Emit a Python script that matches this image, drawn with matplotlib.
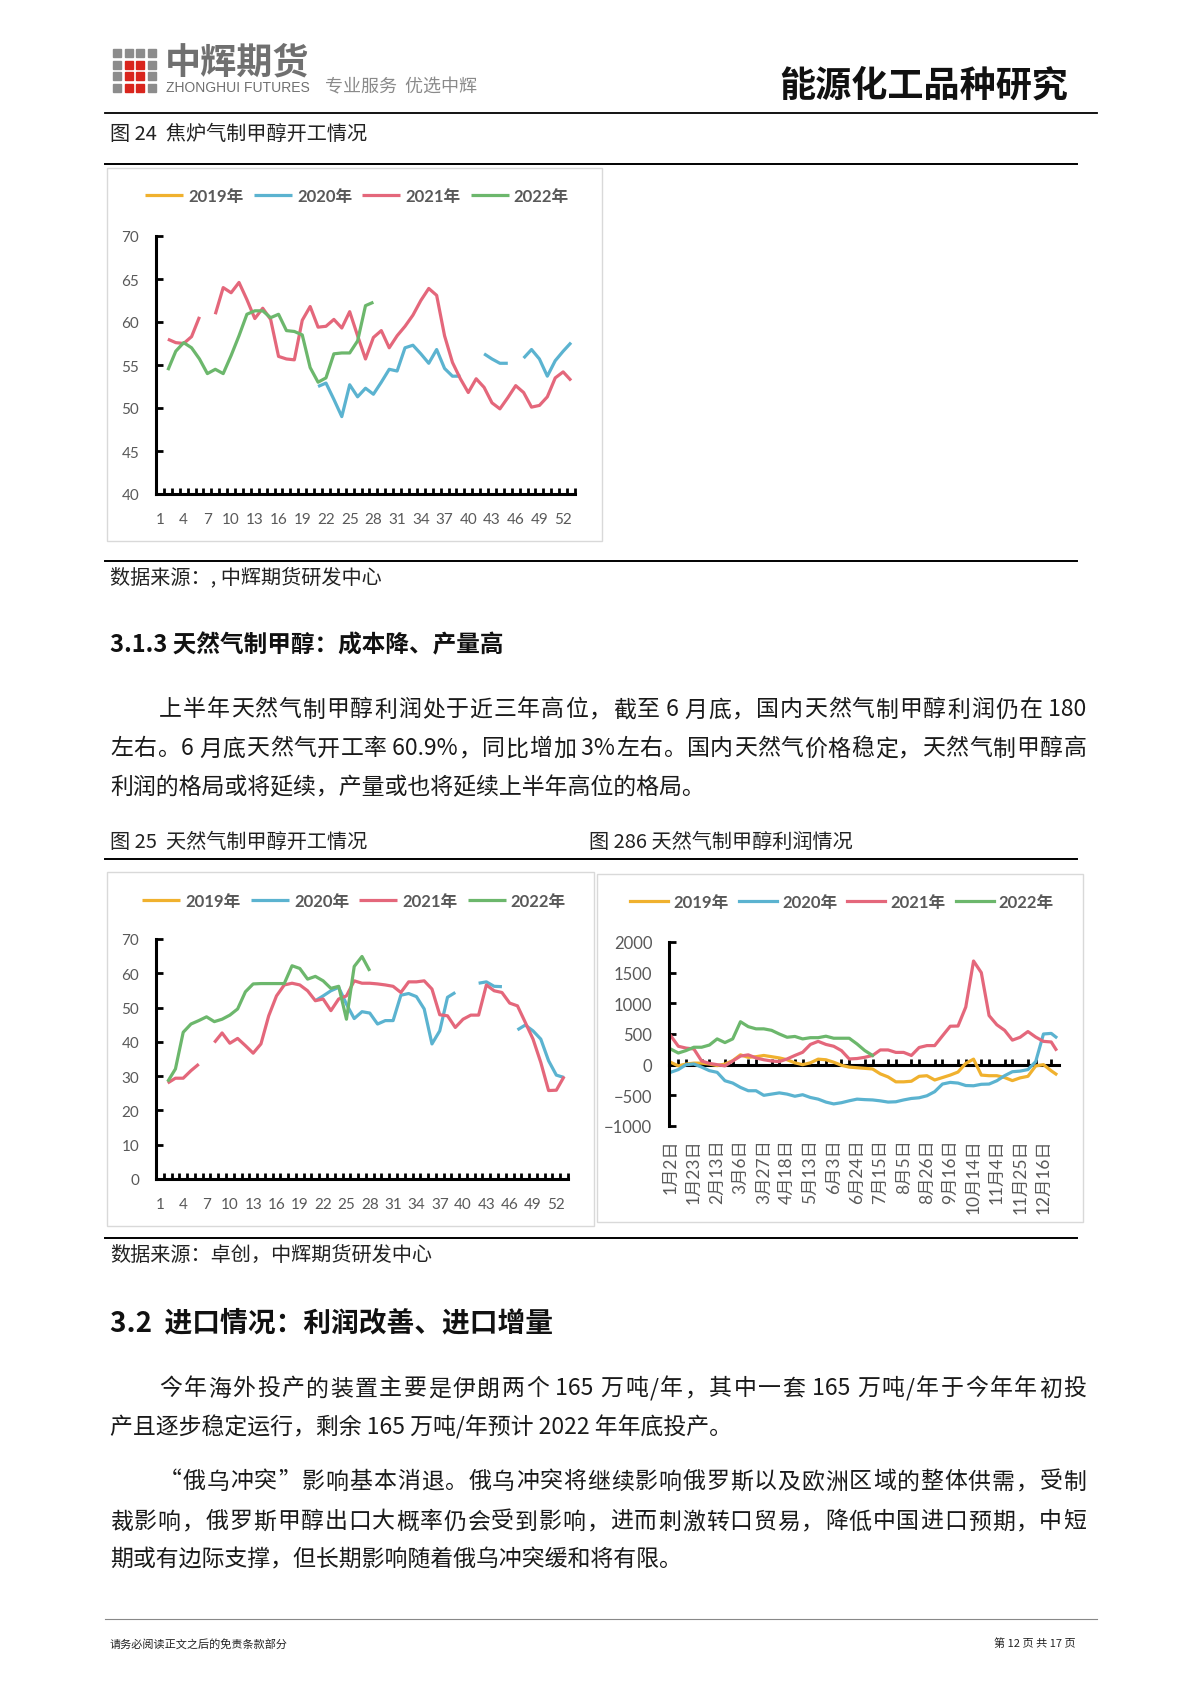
import re

import numpy as np
import matplotlib
matplotlib.use('Agg')
import matplotlib.pyplot as plt
from matplotlib.patches import Rectangle
from matplotlib.lines import Line2D

plt.rcParams['font.family'] = ['Lato', 'Noto Sans CJK SC', 'DejaVu Sans']
CJK = ['Noto Sans CJK SC', 'DejaVu Sans']

# %% data
years = ['2019年', '2020年', '2021年', '2022年']
colors = ['#F0B12E', '#5BB3D0', '#E4677B', '#6CB76C']

weeks = list(range(1, 54))
week_labels = [str(w) for w in range(1, 53, 3)]

# 图24 焦炉气制甲醇开工 (%)
coke_2019 = [None] * 53
coke_2020 = [None] * 20 + [52.5, 52.9, 51.0, 49.0, 52.7, 51.3, 52.3, 51.6, 53.0, 54.5,
                           54.3, 57.0, 57.3, 56.3, 55.2, 56.8, 54.6, 53.7, 53.7] + \
    [None, None, 56.3, 55.7, 55.2, 55.2, None, 55.8, 56.8, 55.7, 53.7, 55.5, 56.6, 57.6]
coke_2021 = [None, 58.0, 57.6, 57.5, 58.3, 60.6, None,
             60.9, 64.0, 63.4, 64.6, 62.6, 60.4, 61.6, 60.3, 56.0, 55.7, 55.6, 60.2,
             61.8, 59.4, 59.5, 60.3, 59.3, 61.2, 58.4, 55.7, 58.2, 59.0, 57.0, 58.4,
             59.5, 60.8, 62.5, 63.9, 63.1, 58.4, 55.3, 53.4, 51.8, 53.4, 52.4, 50.6,
             49.9, 51.2, 52.6, 51.8, 50.1, 50.3, 51.3, 53.5, 54.2, 53.2]
coke_2022 = [None, 54.4, 56.6, 57.6, 57.0, 55.7, 54.0, 54.5, 54.0, 56.1, 58.4, 60.9,
             61.3, 61.3, 60.5, 60.9, 59.0, 58.9, 58.5, 54.7, 53.0, 53.5, 56.3, 56.4,
             56.4, 57.8, 61.9, 62.3] + [None] * 25

# 图25 天然气制甲醇开工 (%)
gas_2019 = [None] * 53
gas_2020 = [None] * 20 + [52.0, 53.4, 54.9, 55.9, 51.0, 46.8, 48.8, 48.4, 45.2, 46.2,
                          46.2, 53.6, 54.1, 53.2, 49.6, 39.4, 43.2, 53.0, 54.4] + \
    [None, None, 57.1, 57.5, 56.2, 56.1, None, 43.5, 44.9, 43.2, 40.8, 34.5, 30.3, 29.6]
gas_2021 = [None, 28.0, 29.4, 29.4, 31.6, 33.5, None,
            39.8, 42.6, 39.6, 41.0, 38.9, 36.7, 39.4, 47.6, 53.4, 56.6, 57.1, 56.6,
            54.9, 52.0, 52.5, 49.1, 52.5, 53.4, 57.8, 57.1, 57.1, 56.9, 56.6, 56.2,
            54.4, 57.5, 57.5, 57.8, 55.4, 47.9, 47.6, 44.2, 46.6, 47.8, 47.8, 56.6,
            54.9, 54.4, 51.3, 50.5, 45.7, 40.8, 34.0, 25.8, 25.9, 29.9]
gas_2022 = [None, 28.4, 32.1, 42.8, 45.2, 46.2, 47.3, 45.9, 46.6, 47.8, 49.6, 54.6,
            56.9, 57.0, 57.0, 57.0, 57.0, 62.2, 61.4, 58.3, 59.1, 57.8, 55.6, 56.2,
            46.6, 62.0, 64.9, 60.7] + [None] * 25

# 图26 天然气制甲醇利润 (元/吨), sampled every 5 trading days
profit_day = list(range(0, 250, 5)) + [248]
profit_2019 = [40, -20, 10, 25, 25, 10, -15, 10, 65, 160, 120, 130, 150, 130, 110, 80,
               30, 0, 30, 90, 80, 40, -10, -40, -50, -60, -70, -150, -200, -280, -280,
               -270, -190, -180, -250, -210, -170, -120, 20, 90, -170, -180, -180, -210,
               -260, -215, -190, -20, 0, -100, -153]
profit_2020 = [-125, -80, 0, 11, -40, -98, -125, -262, -300, -371, -425, -425, -500,
               -480, -460, -480, -515, -490, -535, -562, -610, -640, -620, -589, -562,
               -570, -575, -590, -610, -605, -575, -551, -540, -507, -440, -316, -289,
               -300, -340, -344, -320, -316, -262, -180, -115, -105, -80, 50, 500, 510, 450]
profit_2021 = [475, 300, 270, 256, 60, 20, 0, -20, 60, 140, 160, 110, 80, 60, 50, 93,
               150, 202, 330, 380, 330, 300, 229, 93, 100, 120, 150, 240, 240, 200, 200,
               150, 280, 311, 311, 470, 627, 630, 940, 1690, 1500, 800, 650, 560, 400,
               447, 540, 450, 380, 370, 250]
profit_2022 = [256, 190, 230, 284, 284, 320, 420, 360, 420, 700, 620, 584, 584, 560,
               500, 447, 460, 420, 440, 440, 464, 431, 431, 431, 338, 230, 150] + [None] * 24
date_labels = ['1月2日', '1月23日', '2月13日', '3月6日', '3月27日', '4月18日', '5月13日',
               '6月3日', '6月24日', '7月15日', '8月5日', '8月26日', '9月16日', '10月14日',
               '11月4日', '11月25日', '12月16日']

# %% page helpers (pixel coordinates, origin top-left)
W, H = 1190, 1683
fig = plt.figure(figsize=(W / 100, H / 100), dpi=100, facecolor='w')


def fx(x):
    return x / W


def fy(y):
    return 1 - y / H


def rect(x0, y0, x1, y1):
    return [x0 / W, 1 - y1 / H, (x1 - x0) / W, (y1 - y0) / H]


def hline(x0, x1, y, lw=1.5, color='k'):
    fig.add_artist(Line2D([fx(x0), fx(x1)], [fy(y), fy(y)], color=color, lw=lw))


def put(x, y, s, size=12, **kw):
    kw.setdefault('family', CJK)
    return fig.text(fx(x), fy(y), s, fontsize=size, va='center', **kw)


renderer = fig.canvas.get_renderer()
BODY = 16.5
INK = '#1a1a1a'


def justify(x0, x1, y, s, size=BODY, color=INK):
    toks = re.findall(r'[\x00-\x7f]+|.', s)
    texts = [put(0, y, t, size, color=color) for t in toks]
    widths = [t.get_window_extent(renderer).width for t in texts]
    gap = (x1 - x0 - sum(widths)) / max(len(toks) - 1, 1)
    x = x0
    for t, w in zip(texts, widths):
        t.set_x(fx(x))
        x += w + gap


# %% header
for r in range(4):
    for c in range(4):
        red = c in (1, 2) and r >= 1
        fig.add_artist(Rectangle((fx(113 + c * 11.5), fy(58 + r * 11.5)), 8 / W, 8 / H,
                                 color='#D9251D' if red else '#8C8C8C'))
put(165, 63, '中辉期货', 26, color='#707070', weight='bold')
put(166, 88, 'ZHONGHUI FUTURES', 10, color='#707070',
    family=['Liberation Sans Narrow', 'Liberation Sans'])
put(325, 87, '专业服务  优选中辉', 13, color='#8a8a8a', style='italic')
put(1068, 86, '能源化工品种研究', 26, color='#111111', weight='bold', ha='right')
hline(105, 1097, 114, lw=1.3)

# %% section 1
CAP = 14.5
put(110, 134, '图 24  焦炉气制甲醇开工情况', CAP, color='#222222')
hline(105, 1077, 165, lw=1.4)
hline(105, 1077, 562, lw=1.4)
put(110, 578, '数据来源：, 中辉期货研发中心', CAP, color='#222222')
put(110, 645, '3.1.3 天然气制甲醇：成本降、产量高', 17, color='#111111', weight='bold')
justify(159, 1086, 710, '上半年天然气制甲醇利润处于近三年高位，截至 6 月底，国内天然气制甲醇利润仍在 180')
justify(110, 1086, 749, '左右。6 月底天然气开工率 60.9%，同比增加 3%左右。国内天然气价格稳定，天然气制甲醇高')
put(110, 788, '利润的格局或将延续，产量或也将延续上半年高位的格局。', BODY, color=INK)

put(110, 842, '图 25  天然气制甲醇开工情况', CAP, color='#222222')
put(589, 842, '图 286 天然气制甲醇利润情况', CAP, color='#222222')
hline(105, 1077, 860, lw=1.4)
hline(105, 1077, 1239, lw=1.4)
put(110, 1255, '数据来源：卓创，中辉期货研发中心', CAP, color='#222222')

put(110, 1323, '3.2  进口情况：利润改善、进口增量', 20, color='#111111', weight='bold')
justify(159, 1086, 1389, '今年海外投产的装置主要是伊朗两个 165 万吨/年，其中一套 165 万吨/年于今年年初投')
put(110, 1427, '产且逐步稳定运行，剩余 165 万吨/年预计 2022 年年底投产。', BODY, color=INK)
justify(159, 1086, 1482, '“俄乌冲突”影响基本消退。俄乌冲突将继续影响俄罗斯以及欧洲区域的整体供需，受制')
justify(110, 1086, 1522, '裁影响，俄罗斯甲醇出口大概率仍会受到影响，进而刺激转口贸易，降低中国进口预期，中短')
put(110, 1560, '期或有边际支撑，但长期影响随着俄乌冲突缓和将有限。', BODY, color=INK)

hline(105, 1097, 1620, lw=0.8, color='#888888')
put(110, 1644, '请务必阅读正文之后的免责条款部分', 8, color='#222222')
put(1076, 1644, '第 12 页 共 17 页', 8, color='#222222', ha='right')

# chart frames
for x0, y0, x1, y1 in [(107, 169, 602, 542), (107, 873, 594, 1227), (597, 875, 1083, 1223)]:
    fig.add_artist(Rectangle((fx(x0), fy(y1)), (x1 - x0) / W, (y1 - y0) / H,
                             fill=False, ec='#D9D9D9', lw=1.0))

GRAY = '#595959'


def style_axes(ax, size=11):
    for s in ('top', 'right'):
        ax.spines[s].set_visible(False)
    for s in ('left', 'bottom'):
        ax.spines[s].set_linewidth(2.2)
        ax.spines[s].set_color('k')
    ax.tick_params(axis='y', direction='in', length=5, width=2, colors='k',
                   labelcolor=GRAY, labelsize=size, pad=12)
    ax.set_facecolor('none')


def add_legend(ax, handles, cx, cy):
    ax.legend(handles, years, loc='center', bbox_to_anchor=(fx(cx), fy(cy)),
              bbox_transform=fig.transFigure, ncol=4, frameon=False,
              handlelength=2.3, handletextpad=0.3, columnspacing=0.6,
              prop={'family': ['Lato', 'Noto Sans CJK SC'], 'weight': 'bold', 'size': 12},
              labelcolor=GRAY)


def weekly_chart(pos, series, ylim, ystep, legend_xy):
    ax = fig.add_axes(pos)
    handles = []
    for vals, col in zip(series, colors):
        h, = ax.plot(weeks, np.array(vals, dtype=float), color=col, lw=2.3,
                     solid_capstyle='butt')
        handles.append(h)
    ax.set_xlim(0.5, 53.5)
    ax.set_ylim(*ylim)
    ax.set_yticks(np.arange(ylim[0], ylim[1] + 1, ystep))
    ax.set_xticks(range(1, 53, 3))
    ax.set_xticklabels(week_labels)
    ax.set_xticks(np.arange(0.5, 54, 1), minor=True)
    style_axes(ax)
    ax.tick_params(axis='x', which='major', length=0, labelcolor=GRAY, labelsize=11, pad=13)
    ax.tick_params(axis='x', which='minor', direction='in', length=4, width=2, color='k')
    add_legend(ax, handles, *legend_xy)
    return ax


weekly_chart(rect(156, 237, 575, 495), [coke_2019, coke_2020, coke_2021, coke_2022],
             (40, 70), 5, (357, 197))
weekly_chart(rect(156, 940, 568, 1180), [gas_2019, gas_2020, gas_2021, gas_2022],
             (0, 70), 10, (354, 902))

# profit chart
ax3 = fig.add_axes(rect(669, 943, 1059, 1127))
handles = []
for vals, col in zip([profit_2019, profit_2020, profit_2021, profit_2022], colors):
    h, = ax3.plot(profit_day, np.array(vals, dtype=float), color=col, lw=2.3)
    handles.append(h)
ax3.set_xlim(-1, 250)
ax3.set_ylim(-1000, 2000)
ax3.set_yticks(range(-1000, 2001, 500))
style_axes(ax3, size=12)
ax3.spines['bottom'].set_position(('data', 0))
ax3.spines['bottom'].set_zorder(1)
ax3.set_xticks(range(0, 241, 15))
ax3.set_xticklabels(date_labels, rotation=90, family=['Lato', 'Noto Sans CJK SC'])
ax3.set_xticks(range(0, 250, 5), minor=True)
ax3.tick_params(axis='x', which='major', length=0, labelcolor=GRAY, labelsize=12.5, pad=53)
ax3.tick_params(axis='x', which='minor', direction='in', length=4, width=2, color='k')
add_legend(ax3, handles, 842, 903)

fig.savefig('out.png', dpi=100)
